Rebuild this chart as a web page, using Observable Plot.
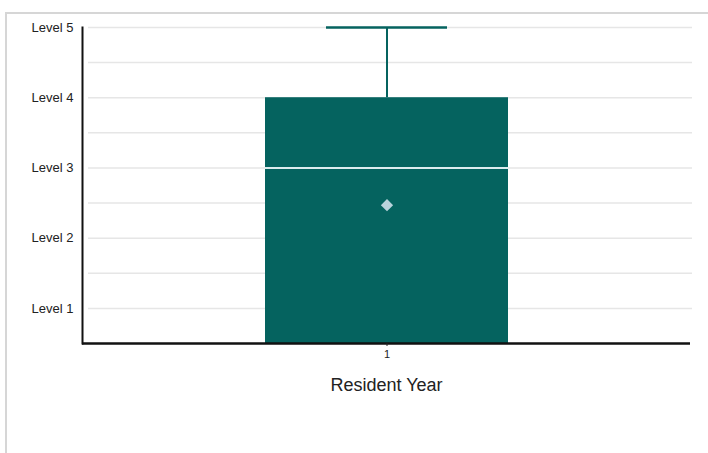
<!DOCTYPE html>
<html>
<head>
<meta charset="utf-8">
<script src="https://cdn.jsdelivr.net/npm/d3@7"></script>
<script src="https://cdn.jsdelivr.net/npm/@observablehq/plot@0.6"></script>
<style>
  html, body { margin: 0; padding: 0; background: #fff; }
  #wrap { position: relative; width: 708px; height: 453px; overflow: hidden; }
  #border { position: absolute; left: 5px; top: 12px; right: -4px; bottom: -4px;
            border-top: 2px solid #d6d6d6; border-left: 2px solid #d6d6d6; pointer-events: none; }
</style>
</head>
<body>
<div id="wrap"><div id="border"></div></div>
<script>
// Data
const categories = ["1"];
const q1 = [0.5];
const median = [3];
const q3 = [4];
const whiskerHigh = [5];
const mean = [2.47];
const levelTicks = [1, 2, 3, 4, 5];
const levelLabels = ["Level 1", "Level 2", "Level 3", "Level 4", "Level 5"];
const gridValues = [1, 1.5, 2, 2.5, 3, 3.5, 4, 4.5, 5];

const rows = categories.map((c, i) => ({
  year: c, q1: q1[i], median: median[i], q3: q3[i], hi: whiskerHigh[i], mean: mean[i]
}));

const teal = "#05635f";

const chart = Plot.plot({
  width: 708,
  height: 453,
  marginLeft: 82,
  marginRight: 18,
  marginTop: 27,
  marginBottom: 110,
  style: { fontFamily: "'Liberation Sans', Arial, sans-serif", background: "transparent", color: "#222" },
  x: { type: "band", domain: categories, padding: 0.4286 },
  y: { domain: [0.5, 5] },
  marks: [
    Plot.ruleY(gridValues, { stroke: "#e6e6e6", strokeWidth: 1.5, insetLeft: 6, insetRight: -2 }),
    Plot.barY(rows, { x: "year", y1: "q1", y2: "q3", fill: teal }),
    Plot.ruleX(rows, { x: "year", y1: "q3", y2: "hi", stroke: teal, strokeWidth: 2 }),
    Plot.tickY(rows, { x: "year", y: "hi", stroke: teal, strokeWidth: 2.5, insetLeft: 61, insetRight: 61 }),
    Plot.tickY(rows, { x: "year", y: "median", stroke: "#dcecee", strokeWidth: 2 }),
    Plot.dot(rows, { x: "year", y: "mean", symbol: "diamond2", r: 5.5, fill: "#b9d3dc", stroke: "none" }),
    Plot.ruleY([0.5], { stroke: "#111", strokeWidth: 2.5 }),
    Plot.frame({ anchor: "left", stroke: "#111", strokeWidth: 2 }),
    Plot.axisY(levelTicks, {
      tickSize: 0, tickPadding: 9, fontSize: 13, label: null,
      tickFormat: (d) => levelLabels[levelTicks.indexOf(d)]
    }),
    Plot.axisX({ tickSize: 3, tickPadding: 4, fontSize: 11, label: null }),
    Plot.axisX({ ticks: [], tickSize: 0, label: "Resident Year", labelAnchor: "center", labelOffset: 47, fontSize: 18 })
  ]
});
document.getElementById("wrap").prepend(chart);
</script>
</body>
</html>
